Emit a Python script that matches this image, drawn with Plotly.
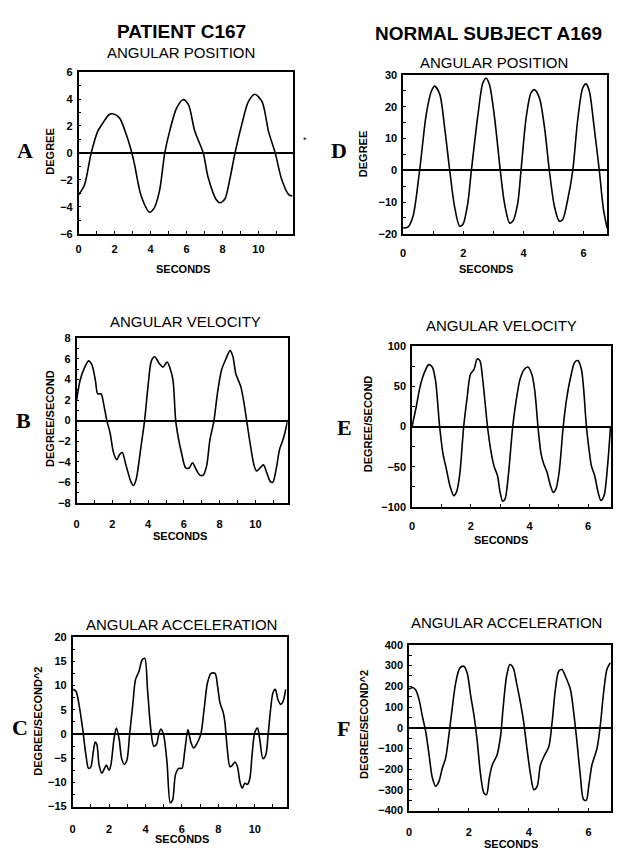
import plotly.graph_objects as go

W, H = 627, 855

# ---------------- data ----------------
tA = [0, 0.32, 0.7, 1.06, 1.34, 1.7, 1.9, 2.27, 2.64, 2.92, 3.1, 3.48, 3.95, 4.2, 4.5, 4.79, 5.06, 5.44, 5.8,
      6.1, 6.46, 6.93, 7.2, 7.67, 7.86, 8.14, 8.4, 8.7, 9.07, 9.44, 9.8, 10.2, 10.56, 10.93, 11.3, 11.68, 11.9]
yA = [-3.1, -2.4, 0, 1.6, 2.2, 2.85, 2.9, 2.6, 1.4, 0.2, -0.8, -3.2, -4.4, -4.1, -2.8, 0, 1.6, 3.3, 3.95,
      3.6, 1.6, 0, -1.8, -3.5, -3.7, -3.4, -2.0, 0, 2.1, 3.8, 4.35, 3.8, 1.6, 0, -2.0, -3.1, -3.2]

tB = [0, 0.19, 0.43, 0.67, 0.86, 1.05, 1.18, 1.37, 1.5, 1.69, 1.87, 2.06, 2.25, 2.4, 2.55, 2.77, 3.05, 3.18,
      3.33, 3.6, 3.8, 3.99, 4.18, 4.36, 4.64, 4.83, 5.06, 5.24, 5.39, 5.54, 5.67, 5.86, 6.1, 6.29, 6.48, 6.67,
      6.89, 7.08, 7.27, 7.45, 7.68, 7.87, 8.1, 8.35, 8.58, 8.73, 8.91, 9.18, 9.36, 9.51, 9.7, 9.93, 10.07,
      10.26, 10.45, 10.64, 10.82, 10.97, 11.16, 11.35, 11.57, 11.8]
yB = [2.0, 3.9, 5.1, 5.8, 5.4, 3.9, 2.6, 2.6, 1.7, 0, -1.2, -3.1, -3.8, -3.3, -3.1, -4.4, -6.0, -6.3,
      -5.7, -2.5, 0, 3.3, 5.8, 6.2, 5.5, 5.2, 5.7, 5.0, 3.9, 0, -1.5, -3.1, -4.6, -4.6, -4.1, -4.7,
      -5.3, -5.3, -4.4, -1.9, 0, 2.6, 4.9, 6.0, 6.8, 6.3, 4.5, 3.3, 1.7, 0, -2.2, -4.4, -4.9,
      -4.6, -4.3, -5.1, -5.9, -6.0, -4.7, -2.8, -1.7, 0]

tC = [0, 0.18, 0.36, 0.55, 0.73, 0.87, 1.0, 1.13, 1.24, 1.33, 1.45, 1.6, 1.75, 1.85, 2.0, 2.1, 2.27, 2.4,
      2.55, 2.69, 2.84, 2.98, 3.13, 3.31, 3.45, 3.64, 3.82, 3.96, 4.11, 4.29, 4.45, 4.6, 4.73, 4.85, 5.0,
      5.18, 5.36, 5.49, 5.64, 5.82, 6.0, 6.15, 6.33, 6.49, 6.64, 6.82, 7.04, 7.22, 7.4, 7.6, 7.82, 7.96,
      8.09, 8.27, 8.36, 8.49, 8.64, 8.78, 8.91, 9.05, 9.18, 9.31, 9.45, 9.6, 9.73, 9.85, 10.0, 10.15,
      10.27, 10.45, 10.6, 10.73, 10.87, 11.0, 11.13, 11.27, 11.42, 11.56, 11.7]
yC = [9.2, 8.8, 5.8, 1.0, -4.4, -7.1, -6.8, -3.7, -1.7, -2.2, -6.4, -8.1, -7.1, -6.4, -7.5, -6.4, -1.0, 1.2,
      -1.0, -5.1, -6.3, -5.4, 0, 6.4, 11.2, 12.9, 15.3, 15.6, 9.2, 1.0, -2.5, -2.2, 0, 1.0, -0.3,
      -5.8, -14.2, -13.6, -8.5, -7.1, -7.1, -3.7, 0.9, -1.7, -2.9, -2.0, 0, 5.1, 10.5, 12.5, 12.5, 9.8,
      6.4, 4.4, 2.4, -3.1, -6.8, -6.4, -5.8, -6.8, -9.8, -11.2, -10.2, -10.4, -9.2, -4.4, 0.3, 1.2,
      -1.0, -5.1, -4.4, -0.3, 5.1, 8.5, 9.2, 7.1, 6.1, 6.8, 9.2]

tD = [0, 0.17, 0.33, 0.55, 0.77, 0.94, 1.05, 1.22, 1.38, 1.55, 1.71, 1.88, 1.99, 2.15, 2.27, 2.49, 2.65,
      2.76, 2.87, 3.04, 3.23, 3.37, 3.54, 3.65, 3.81, 3.92, 4.09, 4.25, 4.36, 4.53, 4.7, 4.86, 5.03, 5.19,
      5.3, 5.47, 5.64, 5.8, 5.97, 6.08, 6.19, 6.35, 6.52, 6.66, 6.78]
yD = [-18.2, -17.8, -14.5, 0, 17.6, 24.9, 26.5, 23.9, 13.5, 0, -11.4, -17.6, -17, -10.4, 0, 17.6, 27.5,
      29, 27, 16.6, 0, -10.4, -16.6, -16, -10.4, 0, 16.6, 24.4, 25.4, 22.8, 13.5, 0, -11.4, -16,
      -15.6, -9.3, 0, 15.6, 25.9, 27.2, 24.9, 13.5, 0, -12.4, -18.2]

tE = [0, 0.14, 0.27, 0.42, 0.57, 0.69, 0.8, 0.94, 1.05, 1.17, 1.3, 1.42, 1.51, 1.62, 1.76, 1.88, 1.99, 2.11,
      2.22, 2.31, 2.4, 2.57, 2.68, 2.79, 2.91, 3.0, 3.09, 3.17, 3.28, 3.43, 3.55, 3.68, 3.82, 3.95, 4.08,
      4.18, 4.29, 4.39, 4.49, 4.6, 4.71, 4.81, 4.9, 5.01, 5.15, 5.26, 5.4, 5.54, 5.65, 5.77, 5.84, 5.94,
      6.03, 6.11, 6.22, 6.34, 6.43, 6.54, 6.66, 6.76]
yE = [0, 24, 49, 67, 77, 74, 57, 0, -33, -53, -75, -86, -82, -61, 0, 37, 65, 71,
      84, 82, 61, 0, -29, -49, -61, -82, -93, -90, -61, 0, 33, 59, 71, 74, 65,
      45, 0, -33, -47, -57, -73, -82, -78, -57, 0, 33, 61, 80, 82, 71, 49, 0,
      -29, -49, -61, -82, -92, -86, -49, 0]

tF = [0, 0.11, 0.22, 0.33, 0.44, 0.56, 0.67, 0.78, 0.89, 1.0, 1.11, 1.22, 1.33, 1.44, 1.56, 1.7, 1.83, 1.94,
      2.06, 2.17, 2.28, 2.39, 2.5, 2.59, 2.68, 2.78, 2.94, 3.06, 3.14, 3.26, 3.37, 3.48, 3.59, 3.72, 3.83,
      3.94, 4.06, 4.17, 4.28, 4.39, 4.53, 4.67, 4.78, 4.89, 5.0, 5.11, 5.22, 5.39, 5.5, 5.61, 5.72, 5.83,
      5.92, 6.01, 6.11, 6.28, 6.39, 6.5, 6.61, 6.72]
yF = [186, 194, 183, 138, 59, -21, -132, -243, -283, -259, -196, -148, -37, 91, 218, 289, 297, 265,
      154, 59, -68, -227, -315, -323, -243, -180, -132, -37, 91, 250, 305, 289, 218, 122, 27,
      -100, -227, -299, -283, -180, -132, -92, 27, 186, 273, 281, 250, 186, 75, -68, -227, -347,
      -351, -275, -180, -100, 11, 170, 281, 313]

# ---------------- panel specs ----------------
FONT = "Arial, Liberation Sans, Helvetica, sans-serif"
SERIF = "Times New Roman, Liberation Serif, serif"

def px_x(p):
    return p / W

def px_y(p):
    return 1 - p / H

panels = [
    # name, t, y, x-dom px, y-dom px, xrange, yrange, dtick, ticklabel standoff
    dict(t=tA, y=yA, xd=(76, 291), yd=(67, 231), xr=[0, 11.9], yr=[-6, 6], dy=2, sy=1, so=4),
    dict(t=tD, y=yD, xd=(402, 607), yd=(70, 231), xr=[0, 6.78], yr=[-20, 30], dy=10, sy=5, so=8),
    dict(t=tB, y=yB, xd=(74, 286), yd=(337, 504), xr=[0, 11.8], yr=[-8, 8], dy=2, sy=1, so=10),
    dict(t=tE, y=yE, xd=(411, 611), yd=(345, 508), xr=[0, 6.78], yr=[-100, 100], dy=50, sy=25, so=8),
    dict(t=tC, y=yC, xd=(70, 285), yd=(640, 812), xr=[0, 11.75], yr=[-15, 20], dy=5, sy=2.5, so=11),
    dict(t=tF, y=yF, xd=(408, 611), yd=(648, 816), xr=[0, 6.75], yr=[-400, 400], dy=100, sy=50, so=11),
]

fig = go.Figure()
layout = {}
for i, p in enumerate(panels, start=1):
    xa = "x" if i == 1 else f"x{i}"
    ya = "y" if i == 1 else f"y{i}"
    fig.add_trace(go.Scatter(x=p["t"], y=p["y"], mode="lines", xaxis=xa, yaxis=ya,
                             line=dict(color="black", width=1.6, shape="spline", smoothing=0.8),
                             showlegend=False, hoverinfo="skip"))
    common = dict(showline=True, linecolor="black", linewidth=1.5, mirror=True, showgrid=False,
                  ticks="inside", ticklen=3, tickcolor="black", tickwidth=1.2,
                  tickfont=dict(family=FONT, size=11, color="black", weight="bold"))
    xkey = "xaxis" if i == 1 else f"xaxis{i}"
    ykey = "yaxis" if i == 1 else f"yaxis{i}"
    layout[xkey] = dict(domain=[px_x(p["xd"][0]), px_x(p["xd"][1])], range=p["xr"], dtick=2, tick0=0,
                        anchor=ya, zeroline=False, ticklabelstandoff=p["so"],
                        minor=dict(ticks="inside", ticklen=3, dtick=1, tickcolor="black"),
                        **common)
    layout[ykey] = dict(domain=[px_y(p["yd"][1]), px_y(p["yd"][0])], range=p["yr"], dtick=p["dy"],
                        anchor=xa, zeroline=True, zerolinecolor="black", zerolinewidth=1.6,
                        ticklabelstandoff=2,
                        minor=dict(ticks="inside", ticklen=3, dtick=p["sy"], tickcolor="black"),
                        **common)

fig.update_layout(**layout)

anns = []
def txt(x, y, s, size, bold=False, family=FONT, angle=0):
    anns.append(dict(x=px_x(x), y=px_y(y), xref="paper", yref="paper", text=s, showarrow=False,
                     xanchor="center", yanchor="middle", textangle=angle,
                     font=dict(family=family, size=size, color="black",
                               weight="bold" if bold else "normal")))

# headers and panel titles
txt(179, 26, "PATIENT C167", 19, bold=True)
txt(488, 28, "NORMAL SUBJECT A169", 19, bold=True)
txt(179, 47, "ANGULAR POSITION", 15)
txt(493, 57, "ANGULAR POSITION", 15)
txt(183, 320, "ANGULAR VELOCITY", 15)
txt(501, 324, "ANGULAR VELOCITY", 15)
txt(179, 627, "ANGULAR ACCELERATION", 15)
txt(506, 625, "ANGULAR ACCELERATION", 15)

# x-axis titles
txt(181, 267, "SECONDS", 11, bold=True)
txt(485, 267, "SECONDS", 11, bold=True)
txt(178, 538, "SECONDS", 11, bold=True)
txt(500, 542, "SECONDS", 11, bold=True)
txt(180, 845, "SECONDS", 11, bold=True)
txt(510, 850, "SECONDS", 11, bold=True)

# y-axis titles
txt(47, 148, "DEGREE", 11, bold=True, angle=-90)
txt(362, 150, "DEGREE", 11, bold=True, angle=-90)
txt(47, 418, "DEGREE/SECOND", 11, bold=True, angle=-90)
txt(367, 424, "DEGREE/SECOND", 11, bold=True, angle=-90)
txt(35, 725, "DEGREE/SECOND^2", 11, bold=True, angle=-90)
txt(363, 729, "DEGREE/SECOND^2", 11, bold=True, angle=-90)

# panel letters
for lx, ly, L in [(22, 147, "A"), (338, 147, "D"), (21, 420, "B"), (343, 427, "E"), (17, 732, "C"), (342, 733, "F")]:
    txt(lx, ly, L, 22, bold=True, family=SERIF)

txt(303, 136, "*", 9)

fig.update_layout(width=W, height=H, margin=dict(l=0, r=0, t=0, b=0),
                  paper_bgcolor="white", plot_bgcolor="white", annotations=anns)

fig.write_html("out.html")
